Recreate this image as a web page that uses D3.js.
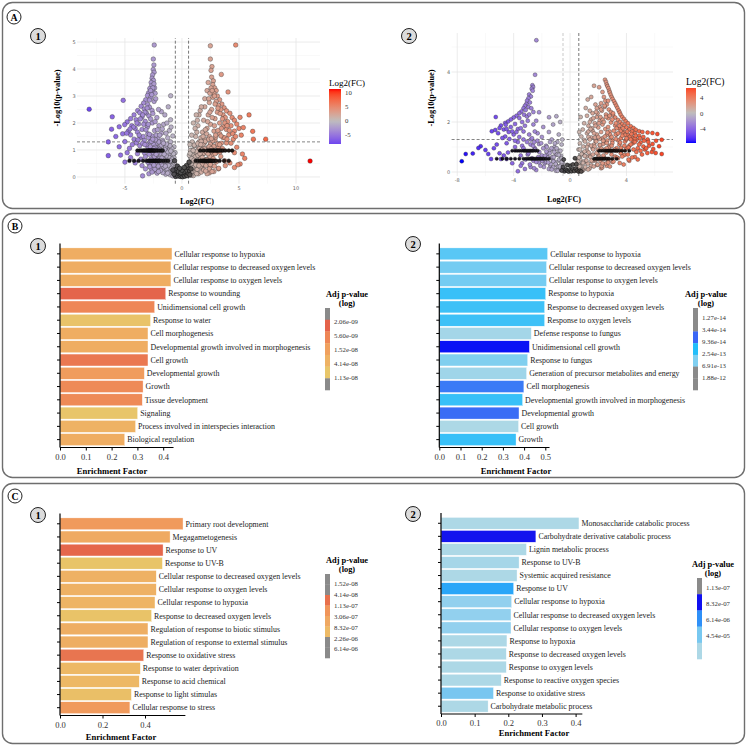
<!DOCTYPE html>
<html>
<head>
<meta charset="utf-8">
<script src="https://cdn.jsdelivr.net/npm/d3@7"></script>
<style>
body { margin: 0; background: #fff; }
svg { display: block; font-family: "Liberation Serif", "Times New Roman", serif; }
</style>
</head>
<body>
<div id="chart"></div>
<script>
// ---------- volcano 1 (log2FC, -log10 p) ----------
var v1Left = [[-2.43,4.89],[-2.51,4.37],[-2.46,4.15],[-2.52,3.98],[-2.44,3.88],[-2.58,3.78],[-2.62,3.66],[-2.5,3.58],[-2.7,3.5],[-2.66,3.38],[-2.82,3.28],[-2.56,3.2],[-2.92,3.12],[-3.02,3.02],[-2.72,2.96],[-3.18,2.86],[-2.44,2.8],[-3.36,2.74],[-3.0,2.68],[-3.58,2.62],[-2.84,2.58],[-3.3,2.52],[-3.88,2.46],[-2.62,2.46],[-3.7,2.38],[-3.1,2.36],[-4.2,2.3],[-2.9,2.26],[-3.5,2.22],[-4.5,2.16],[-2.2,2.2],[-4.02,2.12],[-3.22,2.06],[-4.8,2.04],[-2.6,2.0],[-3.8,1.96],[-5.02,1.94],[-4.4,1.9],[-2.02,1.9],[-3.02,1.86],[-5.5,1.86],[-4.1,1.8],[-3.5,1.76],[-6.17,1.77],[-2.4,1.72],[-4.7,1.7],[-3.9,1.66],[-5.2,1.6],[-1.8,1.62],[-3.0,1.6],[-4.5,1.56],[-2.6,1.52],[-5.8,1.5],[-3.6,1.46],[-2.1,1.45],[-4.2,1.4],[-6.46,1.3],[-3.3,1.36],[-1.7,1.36],[-5.0,1.31],[-2.8,1.3],[-4.0,1.26],[-2.3,1.22],[-3.7,1.16],[-1.5,1.2],[-5.5,1.12],[-3.0,1.12],[-4.6,1.06],[-2.0,1.1],[-1.3,1.06],[-8.13,2.51],[-5.15,2.84],[-0.99,3.01],[-6.11,2.23],[-1.2,2.6],[-1.8,2.42],[-1.0,2.12],[-1.5,2.3],[-1.1,1.72],[-0.8,1.52],[-6.46,0.79],[-5.38,0.81],[-3.45,0.04],[-2.9,0.12],[-4.5,0.72],[-5.0,0.55],[-4.1,0.52],[-3.5,0.42],[-2.7,0.3],[-2.3,0.22],[-4.8,0.9],[-3.9,0.86],[-2.0,0.52],[-1.8,0.32],[-1.4,0.22],[-1.0,0.16],[-1.2,0.62],[-0.9,0.82],[-1.6,0.92],[-1.1,1.0],[-0.7,0.72],[-1.3,0.42],[-0.9,0.5],[-2.5,0.8],[-3.2,0.76],[-2.2,0.7],[-1.5,0.76],[-1.0,1.3],[-0.7,1.12],[-0.6,0.9],[-1.4,1.62],[-1.9,1.26],[-2.7,1.0],[-1.25,1.45],[-0.95,1.85],[-1.6,1.95],[-1.75,0.55],[-1.15,0.85],[-0.85,0.3],[-1.05,0.45],[-0.75,0.55],[-1.45,1.1],[-2.25,1.55],[-1.95,0.7],[-3.6,0.66],[-2.85,0.45],[-1.35,0.68],[-0.65,0.45],[-0.72,0.2],[-1.55,0.45],[-2.15,0.35],[-0.88,1.05],[-1.72,1.78],[-2.05,2.5],[-1.32,2.0]];
var v1FillL = [[-0.62,0.05],[-0.7,0.28],[-0.78,0.12],[-0.82,0.42],[-0.9,0.22],[-0.95,0.62],[-1.02,0.08],[-1.08,0.34],[-1.12,0.72],[-1.18,0.18],[-1.22,0.52],[-1.28,0.92],[-1.32,0.3],[-1.38,0.78],[-1.42,0.1],[-1.48,0.58],[-1.52,1.02],[-1.58,0.36],[-1.62,0.66],[-1.68,0.16],[-1.72,0.98],[-1.78,0.46],[-1.82,1.18],[-1.88,0.24],[-1.92,0.86],[-1.98,0.6],[-2.02,1.3],[-2.08,0.4],[-2.12,0.9],[-2.18,0.14],[-2.22,1.06],[-2.28,0.56],[-2.32,1.38],[-2.38,0.28],[-2.42,0.74],[-2.48,1.2],[-2.52,0.5],[-2.58,0.92],[-2.62,0.18],[-2.68,1.32],[-2.72,0.66],[-2.78,1.12],[-2.82,0.38],[-2.88,0.84],[-2.94,1.46],[-3.0,0.55],[-3.1,1.2],[-3.2,0.3],[-3.3,0.9],[-3.4,1.5],[-0.66,0.52],[-0.74,0.86],[-0.86,0.66],[-0.98,0.96],[-1.06,1.16],[-1.16,0.42],[-1.26,0.14],[-1.36,1.22],[-1.46,0.4],[-1.56,0.84],[-1.66,1.3],[-1.76,0.7],[-1.86,0.56],[-1.96,1.02],[-2.06,0.2],[-2.16,0.62],[-2.26,0.84],[-2.36,1.1],[-2.46,0.44],[-2.56,1.4],[-0.58,0.36],[-0.68,0.18],[-0.8,0.04],[-0.92,0.32],[-1.04,0.6],[-2.3,2.9],[-2.35,3.1],[-2.4,3.3],[-2.45,3.45],[-2.55,3.3],[-2.75,3.2],[-2.65,3.05],[-2.85,2.85],[-3.05,2.55],[-3.25,2.4],[-3.45,2.3],[-3.65,2.15],[-3.95,2.0],[-4.25,1.85],[-4.55,1.78],[-4.85,1.62],[-3.35,1.95],[-3.15,1.75],[-2.95,1.95],[-2.75,2.15],[-2.55,2.35],[-2.35,2.05],[-2.15,1.75],[-1.95,1.55],[-3.75,1.55],[-3.45,1.25],[-4.35,1.2],[-3.85,1.38],[-2.45,1.05],[-3.25,1.2],[-1.62,1.25],[-2.85,1.58]];
var v1Right = [[2.49,4.86],[4.71,4.89],[2.49,4.37],[2.63,4.09],[2.55,3.95],[3.45,3.8],[2.6,3.7],[2.75,3.56],[2.7,3.42],[2.86,3.3],[3.0,3.2],[4.04,3.15],[2.8,3.1],[3.1,3.0],[2.7,2.95],[3.3,2.86],[3.0,2.8],[2.4,2.76],[3.5,2.7],[3.2,2.65],[2.0,2.6],[3.7,2.56],[3.4,2.5],[2.6,2.5],[3.9,2.45],[3.1,2.4],[1.6,2.46],[4.2,2.36],[3.6,2.3],[2.3,2.3],[4.4,2.2],[3.8,2.2],[2.9,2.16],[4.6,2.1],[4.0,2.05],[1.9,2.1],[3.3,2.0],[4.8,1.96],[2.5,1.95],[4.3,1.9],[3.6,1.86],[1.4,1.9],[5.0,1.8],[2.2,1.8],[3.9,1.76],[4.6,1.7],[2.8,1.7],[1.8,1.66],[3.3,1.6],[4.1,1.56],[5.2,1.55],[2.4,1.5],[1.2,1.5],[3.6,1.46],[2.0,1.4],[4.5,1.4],[2.9,1.36],[1.5,1.3],[3.9,1.26],[2.5,1.2],[1.1,1.16],[3.2,1.1],[4.8,1.1],[1.8,1.06],[0.9,1.0],[5.88,2.3],[5.09,2.21],[5.38,1.83],[6.2,1.69],[6.26,1.4],[7.34,1.4],[11.23,0.59],[5.5,0.69],[5.1,0.48],[4.6,0.35],[4.2,0.52],[4.6,0.9],[3.8,0.42],[3.2,0.3],[2.8,0.2],[2.4,0.15],[5.3,0.85],[1.2,0.3],[0.9,0.12],[0.8,0.6],[1.0,0.8],[1.3,0.5],[1.6,0.72],[2.0,0.45],[0.7,0.36],[1.1,0.22],[0.65,0.8],[0.9,1.3],[1.3,1.66],[1.7,0.36],[2.6,0.8],[3.0,0.9],[3.4,0.76],[2.2,0.66],[1.0,2.0],[1.5,2.3],[2.0,2.9],[2.2,3.2],[2.3,3.5],[1.15,1.8],[0.85,1.55],[1.45,1.05],[1.95,1.25],[2.35,0.95],[1.25,0.9],[0.75,0.98],[1.05,0.55],[1.55,0.5],[0.95,0.4],[1.85,0.85],[2.75,1.15],[3.55,1.05],[2.15,1.6],[1.65,1.45],[0.7,1.2],[1.35,2.1],[3.75,0.6],[4.9,0.45],[2.45,0.35]];
var v1FillR = [[0.62,0.08],[0.68,0.3],[0.76,0.14],[0.84,0.45],[0.88,0.2],[0.96,0.65],[1.0,0.05],[1.06,0.36],[1.14,0.74],[1.2,0.16],[1.24,0.55],[1.3,0.95],[1.34,0.28],[1.4,0.8],[1.44,0.12],[1.5,0.62],[1.54,1.05],[1.6,0.38],[1.64,0.68],[1.7,0.18],[1.74,1.0],[1.8,0.48],[1.84,1.2],[1.9,0.26],[1.94,0.88],[2.0,0.62],[2.04,1.32],[2.1,0.42],[2.14,0.92],[2.2,0.12],[2.24,1.08],[2.3,0.58],[2.34,1.4],[2.4,0.3],[2.44,0.76],[2.5,1.22],[2.54,0.52],[2.6,0.94],[2.64,0.2],[2.7,1.34],[2.74,0.68],[2.8,1.14],[2.84,0.4],[2.9,0.86],[2.96,1.48],[3.02,0.56],[3.12,1.22],[3.22,0.32],[3.32,0.92],[3.42,1.52],[0.66,0.54],[0.72,0.88],[0.86,0.68],[0.98,0.98],[1.08,1.18],[1.18,0.44],[1.28,0.12],[1.38,1.24],[1.48,0.42],[1.58,0.86],[1.68,1.32],[1.78,0.72],[1.88,0.58],[1.98,1.04],[2.08,0.22],[2.18,0.64],[2.28,0.86],[2.38,1.12],[2.48,0.46],[2.58,1.42],[0.58,0.38],[0.7,0.2],[0.8,0.06],[0.92,0.34],[1.04,0.62],[2.35,2.9],[2.45,3.1],[2.55,3.3],[2.65,3.2],[2.85,3.0],[2.9,2.7],[3.15,2.55],[3.35,2.35],[3.55,2.15],[3.75,2.0],[3.95,1.9],[4.15,1.72],[4.45,1.6],[4.7,1.5],[3.45,1.8],[3.15,1.72],[2.85,1.9],[2.65,2.2],[2.45,2.4],[2.25,2.05],[2.05,1.75],[1.85,1.5],[3.75,1.45],[3.45,1.25],[4.3,1.25],[3.95,1.4],[2.55,1.05],[3.3,1.2],[1.65,1.2],[2.95,1.55],[1.25,2.3],[1.7,2.6]];
var v1Core = [[-0.55,0.02],[-0.45,0.1],[-0.35,0.04],[-0.25,0.12],[-0.15,0.02],[-0.05,0.06],[0.05,0.01],[0.15,0.08],[0.25,0.03],[0.35,0.11],[0.45,0.05],[0.55,0.14],[-0.6,0.22],[-0.5,0.3],[0.6,0.25],[0.5,0.35],[-0.3,0.2],[0.3,0.22],[0.1,0.18],[-0.1,0.16],[-0.7,0.1],[0.7,0.08],[-0.8,0.26],[0.8,0.3],[-0.4,0.4],[0.4,0.42],[-0.65,0.6],[0.62,0.55],[0.0,0.25],[-0.2,0.32],[0.2,0.35]];
// tied p-values that pile up into dark rows
var v1Bands = [
  {nlp: 0.98, fc: [-3.9,-3.7,-3.55,-3.4,-3.3,-3.2,-3.1,-3.0,-2.92,-2.85,-2.78,-2.7,-2.62,-2.55,-2.48,-2.4,-2.3,-2.15,-2.0,-1.85,-1.7]},
  {nlp: 0.6, fc: [-4.6,-4.2,-3.8,-3.4,-3.1,-2.95,-2.85,-2.75,-2.65,-2.55,-2.45,-2.35,-2.25,-2.15,-2.05,-1.95,-1.8,-1.6,-1.4,-1.2]},
  {nlp: 0.98, fc: [1.6,1.9,2.2,2.4,2.5,2.6,2.7,2.8,2.9,3.0,3.1,3.2,3.3,3.45,3.6,3.8,4.1,4.4]},
  {nlp: 0.6, fc: [1.2,1.4,1.6,1.72,1.82,1.92,2.02,2.12,2.22,2.32,2.42,2.52,2.62,2.72,2.85,3.0,3.3,3.7,4.1]}
];

// ---------- volcano 2 ----------
var v2Left = [[-2.39,5.27],[-2.48,3.89],[-2.67,3.47],[-2.62,3.4],[-2.72,3.33],[-2.65,3.25],[-2.9,3.1],[-2.78,3.02],[-2.95,2.95],[-3.05,2.85],[-2.85,2.78],[-3.1,2.72],[-3.2,2.65],[-2.95,2.6],[-3.3,2.55],[-3.15,2.48],[-3.45,2.42],[-2.6,2.4],[-3.6,2.35],[-3.26,2.29],[-3.8,2.25],[-3.05,2.22],[-4.0,2.18],[-3.6,2.16],[-4.2,2.1],[-5.27,2.2],[-2.2,2.39],[-1.49,2.19],[-0.97,2.23],[-4.4,2.02],[-3.4,2.0],[-4.6,1.96],[-4.56,1.89],[-3.9,1.92],[-4.9,1.86],[-5.0,1.76],[-4.2,1.8],[-2.6,1.9],[-5.55,1.63],[-5.3,1.68],[-4.7,1.7],[-3.7,1.72],[-1.9,1.8],[-4.35,1.6],[-3.3,1.62],[-5.1,1.55],[-2.9,1.5],[-4.0,1.5],[-4.6,1.42],[-2.3,1.55],[-3.6,1.4],[-4.3,1.32],[-4.8,1.36],[-2.0,1.4],[-1.5,1.6],[-1.2,1.9],[-1.3,1.3],[-0.8,1.5],[-0.7,2.0],[-6.34,1.03],[-6.5,0.96],[-7.4,0.72],[-7.68,0.43],[-5.8,0.72],[-3.7,0.03],[-6.0,0.88],[-5.4,0.95],[-5.0,0.75],[-4.7,0.66],[-4.4,0.78],[-5.6,0.52],[-4.9,0.52],[-4.5,0.52],[-6.9,0.74],[-3.2,0.12],[-2.8,0.2],[-2.4,0.08],[-3.9,1.0],[-3.4,1.05],[-2.8,1.1],[-2.2,1.12],[-1.7,1.05],[-1.1,1.0],[-2.5,0.95],[-3.0,0.7],[-3.5,0.66],[-2.0,0.66],[-1.6,0.72],[-1.3,0.55],[-1.0,0.7],[-0.8,0.85],[-0.6,1.1],[-1.8,0.35],[-1.4,0.25],[-1.0,0.3],[-0.75,0.45],[-0.6,0.18],[-0.9,0.1],[-2.2,0.38],[-1.15,0.9],[-1.45,0.85],[-0.65,0.65],[-1.2,0.45],[-0.5,0.35],[-0.55,1.3],[-0.9,1.2],[-2.6,0.45],[-4.1,0.35],[-3.4,0.35]];
var v2FillL = [[-0.55,0.08],[-0.62,0.3],[-0.7,0.15],[-0.78,0.5],[-0.85,0.22],[-0.92,0.7],[-1.0,0.05],[-1.05,0.4],[-1.12,0.8],[-1.2,0.18],[-1.25,0.6],[-1.32,0.95],[-1.38,0.32],[-1.45,0.75],[-1.5,0.12],[-1.58,0.58],[-1.65,1.0],[-1.7,0.4],[-1.78,0.65],[-1.85,0.2],[-1.9,0.95],[-1.98,0.45],[-2.05,1.15],[-2.1,0.25],[-2.18,0.8],[-2.25,0.6],[-2.32,1.25],[-2.4,0.4],[-2.48,0.9],[-2.55,0.15],[-2.62,1.05],[-2.7,0.55],[-2.78,1.3],[-2.85,0.3],[-2.95,0.75],[-3.05,1.2],[-3.15,0.5],[-3.3,0.95],[-3.5,0.25],[-3.7,1.2],[-0.6,0.55],[-0.68,0.85],[-0.8,0.68],[-0.95,0.95],[-1.08,1.15],[-1.18,0.42],[-1.3,0.1],[-1.42,1.2],[-1.55,0.38],[-1.68,0.82],[-0.58,0.4],[-0.72,0.22],[-0.88,0.05],[-1.02,0.32],[-1.15,0.6],[-2.75,2.55],[-2.9,2.3],[-3.0,2.05],[-3.2,1.85],[-3.5,1.75],[-3.8,1.6],[-4.1,1.62],[-4.5,1.72],[-3.3,1.3],[-2.7,1.35],[-2.5,1.62],[-2.4,2.05],[-2.55,1.2],[-4.5,1.15],[-5.2,1.1],[-3.9,1.25]];
var v2Right = [[2.48,3.69],[2.55,3.6],[2.6,3.5],[2.65,3.43],[2.72,3.35],[2.78,3.25],[2.82,3.18],[2.88,3.09],[2.95,3.0],[3.02,2.92],[3.12,2.83],[3.2,2.74],[3.28,2.65],[3.36,2.56],[3.45,2.46],[3.52,2.38],[3.59,2.29],[3.7,2.2],[3.82,2.12],[3.95,2.03],[4.1,1.95],[4.3,1.83],[4.5,1.76],[4.66,1.69],[4.9,1.63],[5.13,1.6],[5.5,1.58],[5.84,1.56],[6.19,1.52],[6.5,1.29],[1.7,3.45],[2.06,3.39],[2.3,3.2],[2.4,3.0],[2.5,2.85],[2.6,2.7],[2.45,2.6],[2.75,2.5],[2.9,2.4],[2.55,2.3],[3.05,2.28],[3.2,2.18],[2.7,2.15],[3.4,2.08],[3.55,2.0],[2.9,1.98],[3.7,1.92],[3.85,1.85],[3.2,1.86],[4.0,1.78],[4.2,1.7],[3.5,1.74],[4.4,1.62],[3.8,1.6],[4.6,1.55],[4.1,1.48],[4.9,1.45],[3.3,1.5],[5.2,1.4],[4.4,1.38],[3.6,1.35],[5.5,1.3],[4.7,1.28],[3.9,1.22],[5.0,1.18],[3.0,1.25],[1.11,2.56],[1.4,2.45],[1.6,2.35],[1.2,2.25],[1.9,2.2],[1.5,2.1],[2.1,2.05],[1.0,1.95],[1.75,1.95],[2.3,1.9],[1.3,1.85],[2.0,1.78],[2.5,1.72],[0.9,1.7],[1.6,1.65],[2.2,1.6],[2.8,1.62],[1.2,1.55],[1.9,1.5],[2.6,1.48],[0.8,1.42],[1.5,1.38],[2.3,1.35],[1.0,1.28],[1.8,1.25],[2.5,1.2],[0.7,1.15],[1.3,1.1],[2.1,1.08],[2.8,1.05],[3.5,1.1],[4.2,1.05],[4.8,0.95],[5.3,0.9],[6.31,1.03],[6.5,0.72],[6.07,0.76],[5.48,0.76],[5.8,0.8],[5.1,0.7],[4.6,0.6],[4.2,0.45],[3.8,0.3],[3.4,0.55],[3.0,0.4],[2.6,0.25],[2.2,0.15],[4.7,0.8],[3.6,0.75],[1.6,0.95],[1.2,0.85],[0.9,0.75],[0.7,0.6],[1.4,0.65],[2.0,0.7],[2.4,0.55],[1.8,0.45],[1.1,0.4],[0.8,0.3],[0.6,0.15],[1.5,0.25],[1.0,0.12],[0.6,0.9],[0.55,0.45],[1.3,1.4],[0.65,1.6],[1.7,1.1],[2.9,0.85],[3.2,0.62],[4.0,0.95],[5.6,1.05],[4.45,1.15],[3.3,0.95],[0.75,2.2],[1.25,2.9],[1.5,3.0],[1.8,2.7],[2.1,2.6],[2.25,2.45]];
var v2FillR = [[0.55,0.1],[0.6,0.32],[0.66,0.16],[0.72,0.5],[0.78,0.24],[0.85,0.72],[0.9,0.06],[0.96,0.42],[1.02,0.82],[1.08,0.2],[1.14,0.62],[1.2,1.0],[1.26,0.34],[1.32,0.78],[1.38,0.14],[1.44,0.6],[1.5,1.05],[1.56,0.42],[1.62,0.7],[1.68,0.22],[1.74,1.02],[1.8,0.5],[1.86,1.22],[1.92,0.28],[1.98,0.9],[2.04,0.62],[2.1,1.32],[2.16,0.44],[2.22,0.94],[2.28,0.18],[2.34,1.12],[2.4,0.6],[2.46,1.42],[2.52,0.34],[2.58,0.78],[2.64,1.26],[2.7,0.52],[2.76,0.98],[2.82,0.22],[2.88,1.38],[2.94,0.7],[3.0,1.16],[3.08,0.42],[3.16,0.9],[3.24,1.5],[3.32,0.58],[3.42,1.26],[3.52,0.36],[3.62,0.96],[3.72,1.56],[3.85,0.68],[4.0,1.3],[4.15,0.5],[4.3,1.1],[4.5,1.25],[0.62,0.58],[0.7,0.9],[0.82,0.72],[0.94,1.02],[1.06,1.22],[1.16,0.46],[1.28,0.1],[1.4,1.3],[1.52,0.46],[1.64,0.9],[1.76,1.38],[1.88,0.76],[2.0,0.56],[2.12,1.08],[2.24,0.24],[2.36,0.66],[2.48,0.9],[2.6,1.16],[2.72,0.48],[2.84,1.5],[0.58,0.42],[0.68,0.22],[0.8,0.06],[0.92,0.36],[1.04,0.64],[1.3,1.62],[1.55,1.75],[1.8,1.85],[2.05,1.95],[2.3,2.1],[2.55,2.2],[2.8,2.25],[3.05,2.35],[1.4,2.0],[1.65,2.15],[1.95,2.35],[2.2,2.5],[2.45,2.65],[2.7,2.85],[2.2,2.75],[1.9,2.55],[3.3,1.75],[3.6,1.65],[3.9,1.48],[4.25,1.42],[4.6,1.35],[3.0,2.1],[3.25,1.95],[3.5,1.85],[3.75,1.75],[4.05,1.62],[4.35,1.52],[4.65,1.45],[4.95,1.35],[5.25,1.25],[5.55,1.2],[5.85,1.12],[6.1,1.25],[3.1,1.65],[3.4,1.55],[3.7,1.45],[4.0,1.35],[4.3,1.3],[4.6,1.2],[4.9,1.1],[5.2,1.02],[2.7,1.8],[2.4,2.0],[2.15,2.2],[1.85,2.4],[2.95,1.4],[2.65,1.58],[3.25,1.32],[3.55,1.18],[3.85,1.05],[4.15,0.98],[4.5,0.9],[5.0,0.85],[5.4,0.95],[5.9,0.92],[2.35,1.25],[2.0,1.4],[1.7,1.55],[1.45,1.72],[2.6,0.95],[2.95,1.05],[3.3,0.85],[3.7,0.62],[4.1,0.7],[4.4,0.58],[4.8,0.5],[1.95,0.3],[2.3,0.35],[2.7,0.38]];
var v2Core = [[-0.4,0.03],[-0.3,0.1],[-0.2,0.05],[-0.1,0.02],[0.0,0.08],[0.1,0.03],[0.2,0.11],[0.3,0.04],[0.4,0.14],[0.5,0.06],[-0.5,0.2],[0.0,0.25],[0.2,0.3],[-0.2,0.28],[0.45,0.32],[-0.45,0.5],[0.35,0.55],[0.6,0.02],[0.7,0.05],[0.8,0.02],[-0.6,0.06]];
var v2Bands = [
  {nlp: 0.85, fc: [-4.1,-3.9,-3.75,-3.6,-3.45,-3.3,-3.2,-3.1,-3.0,-2.9,-2.8,-2.7,-2.6,-2.45,-2.3]},
  {nlp: 0.53, fc: [-5.2,-4.8,-4.5,-4.2,-3.9,-3.6,-3.3,-3.1,-2.95,-2.85,-2.75,-2.65,-2.55,-2.45,-2.35,-2.25,-2.15,-2.05,-1.95,-1.85,-1.7,-1.5]},
  {nlp: 0.85, fc: [2.05,2.2,2.35,2.5,2.6,2.7,2.8,2.9,3.0,3.1,3.2,3.35,3.5,3.7,3.9,4.2]},
  {nlp: 0.53, fc: [1.7,1.8,1.9,2.0,2.1,2.2,2.3,2.4,2.5,2.62,2.77,3.0,3.3]}
];

// ---------- enrichment bars ----------
var b1Terms = ["Cellular response to hypoxia","Cellular response to decreased oxygen levels","Cellular response to oxygen levels","Response to wounding","Unidimensional cell growth","Response to water","Cell morphogenesis","Developmental growth involved in morphogenesis","Cell growth","Developmental growth","Growth","Tissue development","Signaling","Process involved in interspecies interaction","Biological regulation"];
var b1Values = [0.434,0.430,0.430,0.410,0.367,0.351,0.341,0.341,0.341,0.327,0.322,0.319,0.301,0.293,0.251];
var b1Padj = [2.2e-8,2.2e-8,2.2e-8,2.3e-9,6e-9,4.5e-8,2.2e-8,2.2e-8,4e-9,1.3e-8,7e-9,7e-9,4.8e-8,2.5e-8,2.2e-8];
var b1Legend = ["2.06e-09","5.60e-09","1.52e-08","4.14e-08","1.13e-08"];

var b2Terms = ["Cellular response to hypoxia","Cellular response to decreased oxygen levels","Cellular response to oxygen levels","Response to hypoxia","Response to decreased oxygen levels","Response to oxygen levels","Defense response to fungus","Unidimensional cell growth","Response to fungus","Generation of precursor metabolites and energy","Cell morphogenesis","Developmental growth involved in morphogenesis","Developmental growth","Cell growth","Growth"];
var b2Values = [0.511,0.506,0.506,0.502,0.497,0.497,0.434,0.425,0.417,0.412,0.399,0.393,0.376,0.374,0.362];
var b2Padj = [1.6e-13,2.6e-13,2.6e-13,9e-14,1e-13,1e-13,6e-13,1.3e-14,3.2e-13,5.5e-13,4e-14,9e-14,3.4e-14,7e-13,9e-14];
var b2Legend = ["1.27e-14","3.44e-14","9.36e-14","2.54e-13","6.91e-13","1.88e-12"];

var c1Terms = ["Primary root development","Megagametogenesis","Response to UV","Response to UV-B","Cellular response to decreased oxygen levels","Cellular response to oxygen levels","Cellular response to hypoxia","Response to decreased oxygen levels","Regulation of response to biotic stimulus","Regulation of response to external stimulus","Response to oxidative stress","Response to water deprivation","Response to acid chemical","Response to light stimulas","Cellular response to stress"];
var c1Values = [0.579,0.518,0.485,0.482,0.453,0.453,0.447,0.431,0.414,0.414,0.394,0.378,0.373,0.336,0.329];
var c1Padj = [1.3e-7,3e-7,4.5e-8,2e-6,5e-7,5e-7,6e-7,1.8e-6,4e-7,4e-7,6e-8,8e-7,8e-7,1.4e-6,1.3e-7];
var c1Legend = ["1.52e-08","4.14e-08","1.13e-07","3.06e-07","8.32e-07","2.26e-06","6.14e-06"];

var c2Terms = ["Monosaccharide catabolic process","Carbohydrate derivative catabolic process","Lignin metabolic process","Response to UV-B","Systemic acquired resistance","Response to UV","Cellular response to hypoxia","Cellular response to decreased oxygen levels","Cellular response to oxygen levels","Response to hypoxia","Response to decreased oxygen levels","Response to oxygen levels","Response to reactive oxygen species","Response to oxidative stress","Carbohydrate metabolic process"];
var c2Values = [0.410,0.282,0.254,0.232,0.226,0.216,0.210,0.208,0.208,0.196,0.194,0.194,0.179,0.156,0.140];
var c2Padj = [4.5e-5,1.2e-7,4e-5,3e-5,4e-5,8e-7,1.5e-5,1.5e-5,1.5e-5,4e-5,4e-5,4e-5,4e-5,6e-6,4e-5];
var c2Legend = ["1.13e-07","8.32e-07","6.14e-06","4.54e-05"];

var W = 747, H = 746;
var svg = d3.select("#chart").append("svg").attr("width", W).attr("height", H);

// ---------- frames and badges ----------
var frames = [[2, 2, 743, 207], [2, 213, 743, 265], [2, 483, 743, 261]];
svg.selectAll("rect.frame").data(frames).enter().append("rect")
    .attr("class", "frame")
    .attr("x", d => d[0] + 0.5).attr("y", d => d[1] + 0.5)
    .attr("width", d => d[2] - 1).attr("height", d => d[3] - 1)
    .attr("rx", 10).attr("fill", "none").attr("stroke", "#6e6e6e").attr("stroke-width", 1.4);

var badge = function(x, y, label, r, fill) {
    var g = svg.append("g").attr("transform", "translate(" + x + "," + y + ")");
    g.append("circle").attr("r", r).attr("fill", fill).attr("stroke", "#222").attr("stroke-width", 1);
    g.append("text").attr("text-anchor", "middle").attr("dy", "0.36em")
        .attr("font-size", r * 1.4).attr("font-weight", "bold").text(label);
};
badge(14, 17, "A", 7, "#fff");
badge(15, 226, "B", 7, "#fff");
badge(15, 496, "C", 7, "#fff");
[[38, 36, "1"], [409, 36, "2"], [38, 246, "1"], [413, 244, "2"], [38, 515, "1"], [413, 514, "2"]]
    .forEach(d => badge(d[0], d[1], d[2], 7.5, "#dcdcdc"));

// ---------- volcano ----------
var fcColor = function(lim) {
    var m = Math.max(Math.abs(lim[0]), Math.abs(lim[1]));
    var neg = d3.interpolateLab("#bebebe", "#0000ff"), pos = d3.interpolateLab("#bebebe", "#ff0000");
    return v => v < 0 ? neg(-v / m) : pos(v / m);
};

var drawVolcano = function(o) {
    var x = d3.scaleLinear().domain(o.xDom).range(o.xRange);
    var y = d3.scaleLinear().domain(o.yDom).range(o.yRange);
    var all = o.arms.concat(o.core);
    o.bands.forEach(b => b.fc.forEach(f => all.push([f, b.nlp])));
    var lim = d3.extent(all, d => d[0]);
    var col = fcColor(lim);
    var g = svg.append("g");

    // grid
    g.selectAll("line.minx").data(o.xMinor).enter().append("line")
        .attr("x1", d => x(d)).attr("x2", d => x(d)).attr("y1", o.yRange[0]).attr("y2", o.yRange[1])
        .attr("stroke", "#f3f3f3").attr("stroke-width", 0.5);
    g.selectAll("line.miny").data(o.yMinor).enter().append("line")
        .attr("y1", d => y(d)).attr("y2", d => y(d)).attr("x1", o.xRange[0]).attr("x2", o.xRange[1])
        .attr("stroke", "#f3f3f3").attr("stroke-width", 0.5);
    g.selectAll("line.majx").data(o.xTicks).enter().append("line")
        .attr("x1", d => x(d)).attr("x2", d => x(d)).attr("y1", o.yRange[0]).attr("y2", o.yRange[1])
        .attr("stroke", "#e6e6e6").attr("stroke-width", 0.8);
    g.selectAll("line.majy").data(o.yTicks).enter().append("line")
        .attr("y1", d => y(d)).attr("y2", d => y(d)).attr("x1", o.xRange[0]).attr("x2", o.xRange[1])
        .attr("stroke", "#e6e6e6").attr("stroke-width", 0.8);

    g.selectAll("text.xt").data(o.xTicks).enter().append("text")
        .attr("x", d => x(d)).attr("y", o.yRange[0] + 6).attr("text-anchor", "middle")
        .attr("font-size", 5).attr("font-family", "DejaVu Sans").attr("fill", "#666").text(d => d);
    g.selectAll("text.yt").data(o.yTicks).enter().append("text")
        .attr("x", o.xRange[0] - 3).attr("y", d => y(d)).attr("dy", "0.35em").attr("text-anchor", "middle")
        .attr("font-size", 5).attr("font-family", "DejaVu Sans").attr("fill", "#666").text(d => d);

    // thresholds
    o.fcCut.forEach((c, i) => g.append("line")
        .attr("x1", x(c)).attr("x2", x(c)).attr("y1", o.yRange[0]).attr("y2", o.yRange[1])
        .attr("stroke", o.cutCol[i]).attr("stroke-width", 0.8).attr("stroke-dasharray", "3,2"));
    g.append("line").attr("x1", o.xRange[0]).attr("x2", o.xRange[1])
        .attr("y1", y(o.pCut)).attr("y2", y(o.pCut))
        .attr("stroke", "#666").attr("stroke-width", 0.8).attr("stroke-dasharray", "3,2");

    // points
    g.selectAll("circle.arm").data(o.arms).enter().append("circle")
        .attr("cx", d => x(d[0])).attr("cy", d => y(d[1])).attr("r", o.r)
        .attr("fill", d => col(d[0])).attr("stroke", "#2a2a2a").attr("stroke-width", 0.35);
    o.bands.forEach(b => {
        g.selectAll(null).data(b.fc).enter().append("circle")
            .attr("cx", d => x(d)).attr("cy", y(b.nlp)).attr("r", o.r * 0.8)
            .attr("fill", d => d3.interpolateLab(col(d), "#000")(0.85)).attr("stroke", "#000").attr("stroke-width", 0.5);
    });
    g.selectAll("circle.core").data(o.core).enter().append("circle")
        .attr("cx", d => x(d[0])).attr("cy", d => y(d[1])).attr("r", o.r)
        .attr("fill", d => d3.interpolateLab(col(d[0]), "#000")(0.55)).attr("stroke", "#111").attr("stroke-width", 0.6);

    // titles
    g.append("text").attr("transform", "translate(" + o.yTitle[0] + "," + o.yTitle[1] + ") rotate(-90)")
        .attr("text-anchor", "middle").attr("font-size", 8.4).attr("font-weight", "bold").text("-Log10(p-value)");
    g.append("text").attr("x", o.xTitle[0]).attr("y", o.xTitle[1]).attr("text-anchor", "middle")
        .attr("font-size", 8.2).attr("font-weight", "bold").text("Log2(FC)");

    // colour bar
    var ly = d3.scaleLinear().domain([lim[1], lim[0]]).range(o.legBar);
    var gid = "grad" + o.id;
    var grad = svg.append("defs").append("linearGradient").attr("id", gid)
        .attr("x1", 0).attr("x2", 0).attr("y1", 0).attr("y2", 1);
    d3.range(0, 1.0001, 0.05).forEach(t => grad.append("stop")
        .attr("offset", t).attr("stop-color", col(lim[1] + (lim[0] - lim[1]) * t)));
    g.append("text").attr("x", o.legX).attr("y", o.legBar[0] - 3).attr("font-size", o.legFont).text("Log2(FC)");
    g.append("rect").attr("x", o.legX).attr("y", o.legBar[0]).attr("width", o.legW)
        .attr("height", o.legBar[1] - o.legBar[0]).attr("fill", "url(#" + gid + ")");
    g.selectAll("text.lt").data(o.legTicks).enter().append("text")
        .attr("x", o.legX + o.legW + 4).attr("y", d => ly(d)).attr("dy", "0.35em")
        .attr("font-size", 6.8).attr("fill", "#333").text(d => d);
};

drawVolcano({
    id: 1, arms: v1Left.concat(v1FillL, v1Right, v1FillR), core: v1Core, bands: v1Bands,
    xDom: [-9.2, 12.1], xRange: [77, 320], yDom: [-0.25, 5.15], yRange: [183.7, 38],
    xTicks: [-5, 0, 5, 10], xMinor: [-7.5, -2.5, 2.5, 7.5], yTicks: [0, 1, 2, 3, 4, 5], yMinor: [0.5, 1.5, 2.5, 3.5, 4.5],
    fcCut: [-0.58, 0.58], cutCol: ["#555", "#555"], pCut: 1.3, r: 2.3,
    yTitle: [60, 98], xTitle: [197, 204],
    legX: 329, legW: 12, legBar: [89, 144], legFont: 9, legTicks: [10, 5, 0, -5]
});
drawVolcano({
    id: 2, arms: v2Left.concat(v2FillL, v2Right, v2FillR), core: v2Core, bands: v2Bands,
    xDom: [-8.4, 7.3], xRange: [451.6, 673], yDom: [-0.16, 5.56], yRange: [176, 33],
    xTicks: [-8, -4, 0, 4], xMinor: [-6, -2, 2, 6], yTicks: [0, 2, 4], yMinor: [1, 3, 5],
    fcCut: [-0.5, 0.62], cutCol: ["#bbb", "#555"], pCut: 1.3, r: 2,
    yTitle: [434, 98], xTitle: [564, 202],
    legX: 686, legW: 10, legBar: [88, 143], legFont: 9.6, legTicks: [4, 0, -4]
});

// ---------- enrichment bar charts ----------
var drawBars = function(o) {
    var x = d3.scaleLinear().domain([0, o.xMax]).range([o.x0, o.x1]);
    var y = d3.scaleBand().domain(o.terms).range(o.yRange).paddingInner(0.1).paddingOuter(0.03);
    var col = d3.scaleLog().domain(o.pStops).range(o.colors).clamp(true);
    var g = svg.append("g");

    g.selectAll("rect.bar").data(o.terms).enter().append("rect")
        .attr("x", x(0)).attr("y", d => y(d)).attr("height", y.bandwidth())
        .attr("width", (d, i) => x(o.values[i]) - x(0))
        .attr("fill", (d, i) => col(o.padj[i])).attr("stroke", "#fff").attr("stroke-width", 0.4);
    g.selectAll("text.lab").data(o.terms).enter().append("text")
        .attr("x", (d, i) => x(o.values[i]) + 2.5).attr("y", d => y(d) + y.bandwidth() / 2).attr("dy", "0.35em")
        .attr("font-size", 7.9).attr("fill", "#222").text(d => d);

    var axisY = o.yRange[1] + 1.5;
    g.append("g").attr("transform", "translate(0," + axisY + ")")
        .call(d3.axisBottom(x).tickValues(o.ticks).tickFormat(d3.format(".1f")).tickSizeOuter(0).tickSize(3))
        .call(a => a.select(".domain").attr("d", "M" + x(0) + ",0H" + x(o.axisMax)).attr("stroke-width", 1.2))
        .call(a => a.selectAll("text").attr("font-family", "Liberation Serif").attr("font-size", 8.5).attr("fill", "#333"));
    g.append("g").attr("transform", "translate(" + x(0) + ",0)")
        .call(d3.axisLeft(y).tickSize(3).tickFormat(""))
        .call(a => a.select(".domain").attr("d", "M0," + (o.yRange[0] - 4) + "V" + axisY).attr("stroke-width", 1.2));
    g.append("text").attr("x", o.titleX).attr("y", axisY + o.titleDy).attr("text-anchor", "middle")
        .attr("font-size", 8.6).attr("font-weight", "bold").text("Enrichment Factor");

    // stepped colour legend
    var segH = (o.legBar[1] - o.legBar[0]) / o.legSegs.length;
    g.selectAll("rect.seg").data(o.legSegs).enter().append("rect")
        .attr("x", o.legX).attr("width", 5).attr("y", (d, i) => o.legBar[0] + i * segH).attr("height", segH + 0.3)
        .attr("fill", d => d);
    var ls = d3.scalePoint().domain(o.legLabels).range(o.legLab);
    g.selectAll("text.leg").data(o.legLabels).enter().append("text")
        .attr("x", o.legX + 9).attr("y", d => ls(d)).attr("dy", "0.35em")
        .attr("font-size", 6.8).attr("fill", "#333").text(d => d);
    g.append("text").attr("x", o.legTitleX).attr("y", o.legBar[0] - 11).attr("text-anchor", "middle")
        .attr("font-size", 8.4).attr("font-weight", "bold").text("Adj p-value");
    g.append("text").attr("x", o.legTitleX).attr("y", o.legBar[0] - 2).attr("text-anchor", "middle")
        .attr("font-size", 8.4).attr("font-weight", "bold").text("(log)");
};

var grey = "#8a8a8a";
drawBars({
    terms: b1Terms, values: b1Values, padj: b1Padj,
    pStops: [2.2e-9, 6e-9, 1.5e-8, 2.5e-8, 5e-8], colors: ["#E4634A", "#EE8656", "#F0A05E", "#EEB264", "#E8C66A"],
    x0: 60, x1: 163.2, xMax: 0.4, axisMax: 0.44, ticks: [0, 0.1, 0.2, 0.3, 0.4],
    yRange: [247.5, 446], titleX: 112, titleDy: 26,
    legX: 325, legTitleX: 347, legBar: [308, 390], legSegs: [grey, "#E4634A", "#EE8656", "#F0A05E", "#EEB264", "#E8C66A", grey],
    legLabels: b1Legend, legLab: [322, 378]
});
drawBars({
    terms: b2Terms, values: b2Values, padj: b2Padj,
    pStops: [1.3e-14, 3.4e-14, 9e-14, 2.5e-13, 7e-13], colors: ["#0A12F5", "#3A6CF5", "#38C0F8", "#72CCF2", "#ADD8E6"],
    x0: 439.3, x1: 545.3, xMax: 0.5, axisMax: 0.52, ticks: [0, 0.1, 0.2, 0.3, 0.4, 0.5],
    yRange: [247.5, 446], titleX: 516, titleDy: 26,
    legX: 693, legTitleX: 706, legBar: [308, 390], legSegs: [grey, grey, "#3A66F5", "#22BEFA", "#80CFF0", grey, grey],
    legLabels: b2Legend, legLab: [318, 378]
});
drawBars({
    terms: c1Terms, values: c1Values, padj: c1Padj,
    pStops: [4.5e-8, 1.3e-7, 3e-7, 8e-7, 2e-6], colors: ["#E5674B", "#F09A5C", "#EFAA62", "#EDB865", "#E8C468"],
    x0: 60, x1: 145, xMax: 0.4, axisMax: 0.59, ticks: [0, 0.2, 0.4],
    yRange: [517.5, 714], titleX: 121, titleDy: 24,
    legX: 325, legTitleX: 347, legBar: [574, 658], legSegs: [grey, grey, "#E8704C", "#F0955A", "#EFA862", "#EDBA66", grey, grey],
    legLabels: c1Legend, legLab: [584, 649]
});
drawBars({
    terms: c2Terms, values: c2Values, padj: c2Padj,
    pStops: [1.2e-7, 8e-7, 6e-6, 1.5e-5, 4e-5], colors: ["#1414EE", "#2AA6F8", "#78C6F0", "#92D0EE", "#ADD8E6"],
    x0: 441, x1: 575.6, xMax: 0.4, axisMax: 0.42, ticks: [0, 0.1, 0.2, 0.3, 0.4],
    yRange: [517, 712.5], titleX: 534, titleDy: 22,
    legX: 697, legTitleX: 713, legBar: [578, 659], legSegs: [grey, "#1010F0", "#2F90F8", "#78C8F0", "#ADD8E6"],
    legLabels: c2Legend, legLab: [588, 636]
});
</script>
</body>
</html>
